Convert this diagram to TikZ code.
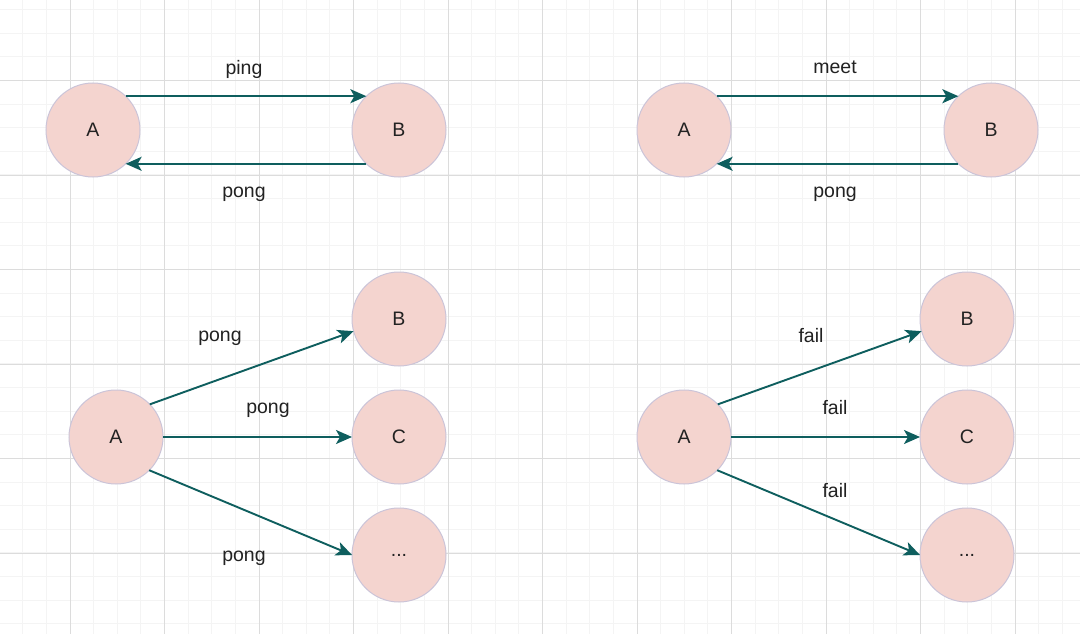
\documentclass[tikz,border=0pt]{standalone}
\usepackage{fontspec}
\setmainfont{Liberation Sans}
\usetikzlibrary{arrows.meta}
\definecolor{nodefill}{HTML}{F4D4CF}
\definecolor{nodeline}{HTML}{CBC4D8}
\definecolor{arrowcol}{HTML}{0E5E5E}
\definecolor{txtcol}{HTML}{222222}
\definecolor{majorgrid}{HTML}{DCDCDC}
\definecolor{minorgrid}{HTML}{F4F4F4}
\tikzset{
  circ/.style={circle, draw=nodeline, fill=nodefill, line width=1pt, minimum size=94pt, inner sep=0pt, outer sep=0pt, text=txtcol, font=\fontsize{19.5}{23}\selectfont},
  lbl/.style={text=txtcol, font=\fontsize{19.5}{23}\selectfont, inner sep=0pt},
  conn/.style={draw=arrowcol, line width=1.9pt, -{Stealth[length=16pt, width=14pt, inset=4pt]}},
  mingrid/.style={draw=minorgrid, line width=1pt},
  majgrid/.style={draw=majorgrid, line width=1pt},
}
\begin{document}
\begin{tikzpicture}[x=1pt, y=-1pt]
\useasboundingbox (0,0) rectangle (1080,634);
\fill[white] (0,0) rectangle (1080,634);
% grid
\foreach \i in {0,...,45} { \draw[mingrid] ({22.75+23.625*\i},0) -- ({22.75+23.625*\i},634); }
\foreach \j in {0,...,26} { \draw[mingrid] (0,{9.6+23.625*\j}) -- (1080,{9.6+23.625*\j}); }
\foreach \i in {0,...,10} { \draw[majgrid] ({70+94.5*\i},0) -- ({70+94.5*\i},634); }
\foreach \j in {0,...,5} { \draw[majgrid] (0,{80.5+94.5*\j}) -- (1080,{80.5+94.5*\j}); }

% top left
\node[circ] (a1) at (93,130) {A};
\node[circ] (b1) at (399,130) {B};
\draw[conn] (a1.46) -- (b1.134);
\draw[conn] (b1.-134) -- (a1.-46);
\node[lbl] (l1) at (244,69) {ping};
\node[lbl] (l2) at (244,194) {pong};

% top right
\node[circ] (a2) at (684,130) {A};
\node[circ] (b2) at (991,130) {B};
\draw[conn] (a2.46) -- (b2.134);
\draw[conn] (b2.-134) -- (a2.-46);
\node[lbl] (l3) at (835,67) {meet};
\node[lbl] (l4) at (835,194) {pong};

% bottom left
\node[circ] (a3) at (116,437) {A};
\node[circ] (b3) at (399,319) {B};
\node[circ] (c3) at (399,437) {C};
\node[circ] (d3) at (399,555) {...};
\draw[conn] (a3.44) -- (b3.195);
\draw[conn] (a3.east) -- (c3.west);
\draw[conn] (a3.-45) -- (d3.west);
\node[lbl] (l5) at (220,338) {pong};
\node[lbl] (l6) at (268,410) {pong};
\node[lbl] (l7) at (244,558) {pong};

% bottom right
\node[circ] (a4) at (684,437) {A};
\node[circ] (b4) at (967,319) {B};
\node[circ] (c4) at (967,437) {C};
\node[circ] (d4) at (967,555) {...};
\draw[conn] (a4.44) -- (b4.195);
\draw[conn] (a4.east) -- (c4.west);
\draw[conn] (a4.-45) -- (d4.west);
\node[lbl] (l8) at (811,336) {fail};
\node[lbl] (l9) at (835,408) {fail};
\node[lbl] (l10) at (835,491) {fail};
\end{tikzpicture}
\end{document}
